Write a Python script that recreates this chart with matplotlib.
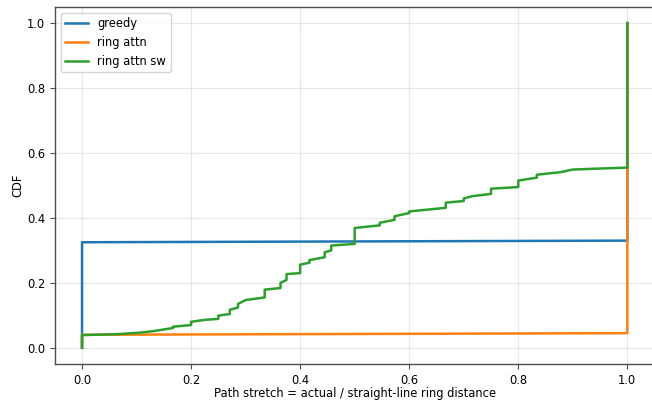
import matplotlib
matplotlib.use("Agg")
import matplotlib.pyplot as plt

# CDF curves: stretch value -> cumulative fraction
greedy_x = [0.0, 0.0, 1.0, 1.0]
greedy_y = [0.0, 0.325, 0.330, 1.0]

ring_x = [0.0, 0.0, 1.0, 1.0]
ring_y = [0.0, 0.040, 0.045, 1.0]

sw_x = [0.0, 0.0, 0.066, 0.109, 0.134, 0.167, 0.167, 0.20, 0.20, 0.225,
        0.25, 0.25, 0.271, 0.271, 0.286, 0.286, 0.30, 0.335, 0.335,
        0.364, 0.364, 0.375, 0.375, 0.40, 0.40, 0.417, 0.417, 0.445, 0.445,
        0.457, 0.457, 0.50, 0.50, 0.546, 0.546, 0.573, 0.573, 0.60, 0.60,
        0.667, 0.667, 0.70, 0.70, 0.716, 0.75, 0.75, 0.80, 0.80, 0.834, 0.834,
        0.878, 0.90, 1.0, 1.0]
sw_y = [0.0, 0.039, 0.042, 0.047, 0.052, 0.061, 0.065, 0.070, 0.080, 0.086,
        0.089, 0.099, 0.104, 0.117, 0.124, 0.135, 0.147, 0.155, 0.179,
        0.184, 0.200, 0.209, 0.227, 0.230, 0.256, 0.262, 0.270, 0.279, 0.294,
        0.300, 0.315, 0.320, 0.369, 0.377, 0.385, 0.394, 0.405, 0.415, 0.420,
        0.431, 0.447, 0.452, 0.460, 0.467, 0.474, 0.490, 0.495, 0.515, 0.524, 0.533,
        0.541, 0.549, 0.555, 1.0]

fs = 8.3

fig, ax = plt.subplots(figsize=(6.52, 4.04), dpi=100)
fig.subplots_adjust(left=0.084, right=1.004, bottom=0.099, top=0.983)

ax.plot(greedy_x, greedy_y, color="#1f77b4", lw=1.8, label="greedy")
ax.plot(ring_x, ring_y, color="#ff7f0e", lw=1.8, label="ring attn")
ax.plot(sw_x, sw_y, color="#2ca02c", lw=1.8, label="ring attn sw")

ax.grid(True, alpha=0.3)
for s in ax.spines.values():
    s.set_color("0.3")
    s.set_linewidth(1.0)
ax.tick_params(labelsize=fs, color="0.3")
ax.set_xlabel("Path stretch = actual / straight-line ring distance", fontsize=fs, labelpad=0.5)
ax.set_ylabel("CDF", fontsize=fs, labelpad=1.5)
ax.legend(loc="upper left", fontsize=fs)

fig.savefig("out.png", dpi=100)
